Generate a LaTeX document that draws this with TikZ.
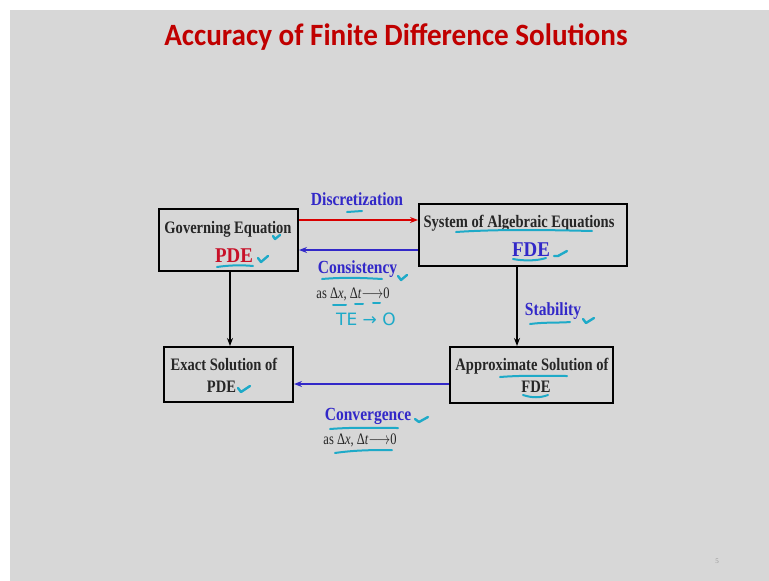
\documentclass[tikz,border=0pt]{standalone}
\usepackage{fontspec}
\setmainfont{Liberation Serif}
\newfontfamily\titlefont{Carlito}
\newfontfamily\handfont{DejaVu Sans}
\usetikzlibrary{arrows.meta}
\definecolor{bggray}{RGB}{215,215,215}
\definecolor{titlered}{RGB}{192,0,0}
\definecolor{pdered}{RGB}{200,16,40}
\definecolor{lblue}{RGB}{50,40,200}
\definecolor{hand}{RGB}{30,170,200}
\tikzset{
  box/.style={draw=black, line width=2pt, inner sep=0pt},
  boxtext/.style={font=\bfseries\fontsize{17.5}{19}\selectfont, text=black!85, anchor=base, xscale=0.83},
  bigtext/.style={font=\bfseries\fontsize{21}{23}\selectfont, anchor=base, xscale=0.9},
  lbl/.style={font=\bfseries\fontsize{18.5}{20}\selectfont, text=lblue, anchor=base, xscale=0.84},
  small/.style={font=\fontsize{16}{18}\selectfont, text=black!85, anchor=base, xscale=0.78},
  conn/.style={line width=2pt, -{Stealth[length=8pt,width=6pt]}},
  hmark/.style={draw=hand, line width=2pt, line cap=round},
  htick/.style={draw=hand, line width=2.4pt, line cap=round, line join=round}
}
\begin{document}
\begin{tikzpicture}[x=1pt,y=-1pt]
\useasboundingbox (0,0) rectangle (769,581);
\fill[white] (0,0) rectangle (769,581);
\fill[bggray] (10,10) rectangle (769,581);

\node[font=\titlefont\bfseries\fontsize{31}{34}\selectfont, text=titlered, anchor=base, xscale=0.94] (title) at (396,45) {Accuracy of Finite Difference Solutions};

% boxes
\node[box, minimum width=139pt, minimum height=62pt] (ge) at (228.5,240) {};
\node[box, minimum width=208pt, minimum height=62pt] (sa) at (523,235) {};
\node[box, minimum width=129pt, minimum height=55pt] (es) at (228.5,374.5) {};
\node[box, minimum width=163pt, minimum height=56pt] (ap) at (531.5,375) {};

% box texts
\node[boxtext] (getxt) at (228,233) {Governing Equation};
\node[bigtext, text=pdered] (gepde) at (234,262) {PDE};
\node[boxtext] (satxt) at (519,227) {System of Algebraic Equations};
\node[bigtext, text=lblue] (safde) at (531,256) {FDE};
\node[boxtext] (estxt) at (224,370) {Exact Solution of};
\node[boxtext] (espde) at (221.5,392) {PDE};
\node[boxtext] (aptxt) at (532,370) {Approximate Solution of};
\node[boxtext] (apfde) at (536,392) {FDE};

% connectors
\coordinate (geR1) at (ge.east |- 0,220);
\coordinate (saL1) at (sa.west |- 0,220);
\coordinate (geR2) at (ge.east |- 0,250);
\coordinate (saL2) at (sa.west |- 0,250);
\coordinate (geB) at (230,271);
\coordinate (saB) at (517,266);
\coordinate (apL) at (450,384);
\draw[conn, draw=red!85!black] (geR1) -- (saL1);
\draw[conn, draw=lblue] (saL2) -- (geR2);
\draw[conn, draw=black] (geB) -- (es.north -| geB);
\draw[conn, draw=black] (saB) -- (ap.north -| saB);
\draw[conn, draw=lblue] (ap.west |- apL) -- (es.east |- apL);

% labels
\node[lbl] (disc) at (357,205) {Discretization};
\node[lbl] (cons) at (357.5,273) {Consistency};
\node[small] (cas) at (353,298) {as Δ\textit{x}, Δ\textit{t}$\longrightarrow$0};
\node[lbl] (stab) at (553,315) {Stability};
\node[lbl] (conv) at (368,420) {Convergence};
\node[small] (vas) at (360,444) {as Δ\textit{x}, Δ\textit{t}$\longrightarrow$0};
\node[font=\handfont\fontsize{17}{19}\selectfont, text=hand, anchor=base] (te) at (366,325) {TE → O};
\node[font=\fontsize{7}{8}\selectfont, text=black!40] (pg) at (717,561) {5};

% handwritten annotations
\draw[htick] (273,236) -- (275,239) -- (280,235);
\draw[hmark] (217,267) .. controls (230,265) and (243,265) .. (253,266);
\draw[htick] (258,258) -- (261,262) -- (268,256);
\draw[hmark] (347,212) -- (362,211);
\draw[hmark] (322,279) .. controls (345,277) and (365,278) .. (382,279);
\draw[htick] (398,276) -- (401,280) -- (407,275);
\draw[hmark] (333,305) -- (346,305);
\draw[hmark] (355,304) -- (363,304);
\draw[hmark] (373,303) -- (380,303);
\draw[hmark] (456,232) .. controls (500,229) and (550,230) .. (592,231);
\draw[hmark] (513,259) .. controls (523,261) and (537,261) .. (546,258);
\draw[htick] (554,256) -- (558,256) -- (567,251);
\draw[hmark] (530,324) .. controls (545,322) and (560,323) .. (570,322);
\draw[htick] (583,319) -- (586,323) -- (594,318);
\draw[htick] (238,388) -- (241,392) -- (250,386);
\draw[hmark] (500,377) .. controls (525,375) and (550,376) .. (567,376);
\draw[hmark] (523,395) .. controls (532,398) and (540,398) .. (548,395);
\draw[hmark] (330,429) .. controls (355,427) and (380,428) .. (398,428);
\draw[htick] (415,419) -- (419,422) -- (428,417);
\draw[hmark] (335,453) .. controls (355,450) and (375,450) .. (392,450);
\end{tikzpicture}
\end{document}
